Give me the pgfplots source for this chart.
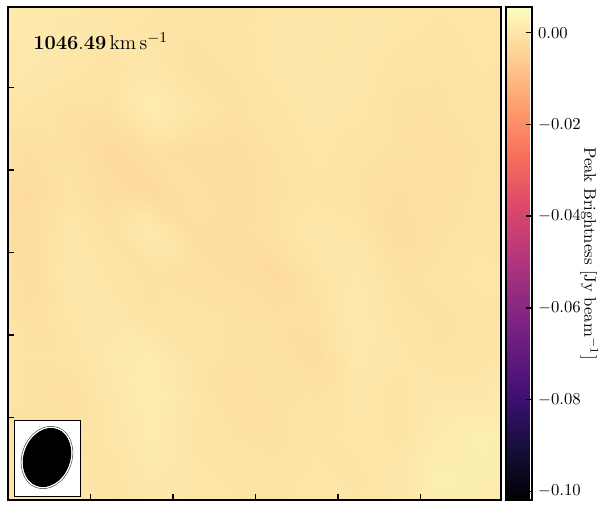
\documentclass[border=0pt]{standalone}
\usepackage{pgfplots}
\pgfplotsset{compat=1.18}
\pgfplotsset{colormap={magma}{
rgb=(0.001462,0.000466,0.013866)
rgb=(0.078815,0.054184,0.211667)
rgb=(0.232077,0.059889,0.437695)
rgb=(0.390384,0.100379,0.501864)
rgb=(0.550287,0.161158,0.505719)
rgb=(0.716387,0.214982,0.475290)
rgb=(0.868793,0.287728,0.409303)
rgb=(0.967671,0.439703,0.359810)
rgb=(0.994738,0.624350,0.427397)
rgb=(0.995680,0.812706,0.572645)
rgb=(0.987053,0.991438,0.749504)
}}
\begin{document}
\begin{tikzpicture}
\useasboundingbox (0,0) rectangle (362.4pt,306pt);
\begin{axis}[
  at={(4.8pt,6pt)}, anchor=south west,
  scale only axis, width=295.8pt, height=295.8pt,
  xmin=0, xmax=12, ymin=0, ymax=12,
  colormap name=magma,
  point meta min=-0.1019, point meta max=0.0056,
  axis line style={black, line width=1.2pt},
  xtick={0,2.008,4.016,6.024,8.032,10.04},
  ytick={0,2.008,4.016,6.024,8.032,10.04},
  xticklabels={}, yticklabels={},
  tick pos=left, tick align=inside,
  major tick length=3.6pt,
  tick style={black, line width=0.8pt},
  axis on top,
  colorbar,
  colorbar style={
    at={(parent axis.north east)}, anchor=north west, xshift=-5.4pt,
    width=15.6pt, height=295.8pt,
    axis line style={black, line width=1.2pt},
    ytick={-0.1,-0.08,-0.06,-0.04,-0.02,0},
    scaled y ticks=false,
    yticklabel style={/pgf/number format/.cd, fixed, fixed zerofill, precision=2},
    ytick pos=right, yticklabel pos=right, ytick align=inside,
    major tick length=3.6pt,
    ytick style={black, line width=0.8pt},
    ylabel={Peak Brightness [Jy beam$^{-1}$]},
    every axis y label/.style={at={(axis description cs:3.19,0.5)}, anchor=center, rotate=-90},
  },
]
\addplot[matrix plot*, shader=interp, mesh/cols=13, point meta=explicit] coordinates {
(0,0)[0.0000] (1,0)[-0.0004] (2,0)[0.0004] (3,0)[0.0000] (4,0)[0.0004] (5,0)[0.0004] (6,0)[0.0000] (7,0)[-0.0004] (8,0)[0.0004] (9,0)[0.0000] (10,0)[0.0008] (11,0)[0.0016] (12,0)[0.0012]
(0,1)[-0.0004] (1,1)[-0.0008] (2,1)[0.0000] (3,1)[-0.0006] (4,1)[0.0008] (5,1)[0.0000] (6,1)[-0.0004] (7,1)[-0.0006] (8,1)[0.0000] (9,1)[-0.0004] (10,1)[0.0004] (11,1)[0.0024] (12,1)[0.0020]
(0,2)[0.0000] (1,2)[-0.0014] (2,2)[-0.0008] (3,2)[0.0000] (4,2)[0.0016] (5,2)[-0.0004] (6,2)[-0.0008] (7,2)[-0.0010] (8,2)[-0.0004] (9,2)[0.0000] (10,2)[-0.0004] (11,2)[0.0016] (12,2)[0.0024]
(0,3)[0.0004] (1,3)[-0.0010] (2,3)[-0.0014] (3,3)[0.0004] (4,3)[0.0020] (5,3)[0.0000] (6,3)[-0.0016] (7,3)[-0.0010] (8,3)[-0.0008] (9,3)[0.0004] (10,3)[-0.0006] (11,3)[0.0006] (12,3)[0.0004]
(0,4)[0.0010] (1,4)[-0.0008] (2,4)[-0.0006] (3,4)[0.0010] (4,4)[0.0016] (5,4)[-0.0004] (6,4)[-0.0010] (7,4)[-0.0008] (8,4)[-0.0020] (9,4)[0.0010] (10,4)[0.0000] (11,4)[-0.0008] (12,4)[-0.0006]
(0,5)[0.0006] (1,5)[-0.0014] (2,5)[0.0000] (3,5)[0.0004] (4,5)[-0.0008] (5,5)[-0.0004] (6,5)[-0.0010] (7,5)[-0.0014] (8,5)[-0.0010] (9,5)[0.0012] (10,5)[-0.0004] (11,5)[-0.0010] (12,5)[-0.0004]
(0,6)[0.0000] (1,6)[-0.0020] (2,6)[0.0006] (3,6)[-0.0004] (4,6)[-0.0010] (5,6)[-0.0014] (6,6)[-0.0016] (7,6)[-0.0024] (8,6)[-0.0004] (9,6)[0.0008] (10,6)[-0.0010] (11,6)[-0.0006] (12,6)[0.0000]
(0,7)[-0.0004] (1,7)[-0.0022] (2,7)[0.0004] (3,7)[-0.0010] (4,7)[0.0012] (5,7)[-0.0016] (6,7)[-0.0020] (7,7)[-0.0008] (8,7)[0.0004] (9,7)[0.0000] (10,7)[-0.0020] (11,7)[-0.0010] (12,7)[-0.0004]
(0,8)[-0.0006] (1,8)[-0.0024] (2,8)[-0.0006] (3,8)[-0.0020] (4,8)[-0.0026] (5,8)[-0.0010] (6,8)[-0.0022] (7,8)[-0.0010] (8,8)[-0.0004] (9,8)[-0.0008] (10,8)[-0.0016] (11,8)[-0.0014] (12,8)[-0.0006]
(0,9)[0.0000] (1,9)[-0.0016] (2,9)[-0.0010] (3,9)[-0.0026] (4,9)[-0.0014] (5,9)[-0.0020] (6,9)[-0.0020] (7,9)[-0.0008] (8,9)[0.0000] (9,9)[-0.0006] (10,9)[-0.0010] (11,9)[-0.0016] (12,9)[-0.0008]
(0,10)[0.0006] (1,10)[-0.0004] (2,10)[-0.0010] (3,10)[-0.0010] (4,10)[0.0020] (5,10)[0.0000] (6,10)[-0.0010] (7,10)[-0.0004] (8,10)[0.0004] (9,10)[0.0000] (10,10)[-0.0010] (11,10)[-0.0010] (12,10)[-0.0004]
(0,11)[0.0012] (1,11)[0.0008] (2,11)[0.0000] (3,11)[-0.0006] (4,11)[0.0004] (5,11)[-0.0010] (6,11)[-0.0008] (7,11)[0.0002] (8,11)[0.0006] (9,11)[0.0004] (10,11)[-0.0006] (11,11)[-0.0008] (12,11)[-0.0002]
(0,12)[0.0010] (1,12)[0.0012] (2,12)[0.0006] (3,12)[0.0000] (4,12)[-0.0004] (5,12)[-0.0008] (6,12)[-0.0006] (7,12)[0.0004] (8,12)[0.0008] (9,12)[0.0006] (10,12)[0.0000] (11,12)[-0.0004] (12,12)[0.0000]
};
% beam inset
\draw[black, line width=0.6pt, fill=white] (rel axis cs:0.0122,0.0081) rectangle (rel axis cs:0.148,0.162);
\draw[gray!70!black, line width=0.5pt] (rel axis cs:0.0791,0.0862) ellipse[x radius=14.9pt, y radius=19.1pt, rotate=-20];
\fill[black] (rel axis cs:0.0791,0.0862) ellipse[x radius=14.1pt, y radius=18.3pt, rotate=-20];
\draw[white, line width=0.6pt] (rel axis cs:0.0791,0.0862) ellipse[x radius=14.4pt, y radius=18.6pt, rotate=-20];
\node[anchor=west, inner sep=0pt] at (rel axis cs:0.0507,0.931)
  {\fontsize{13.2}{16}\selectfont$\mathbf{1046.49}\,\mathrm{km\,s^{-1}}$};
\end{axis}
\end{tikzpicture}
\end{document}
